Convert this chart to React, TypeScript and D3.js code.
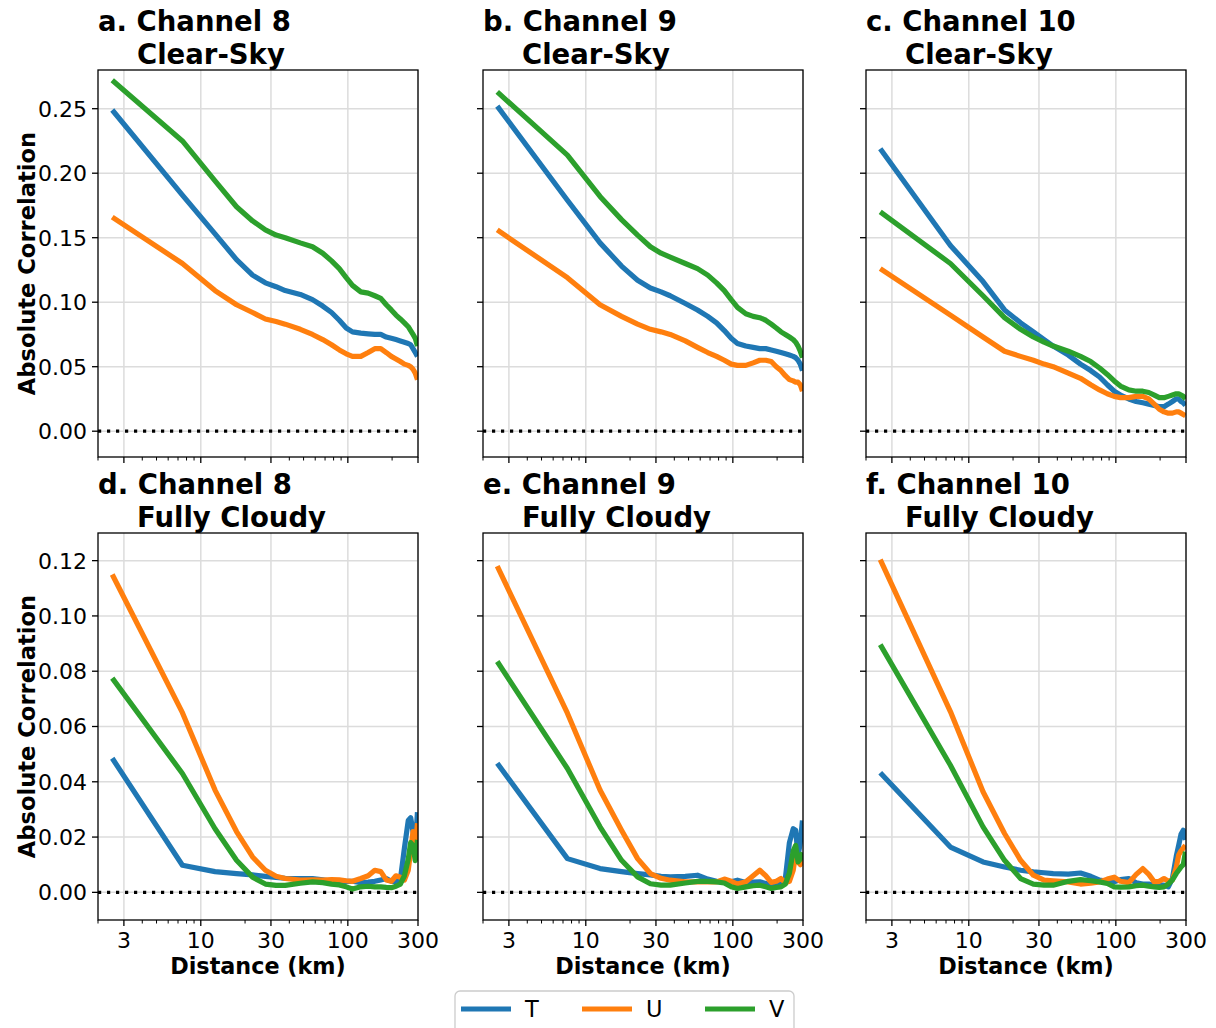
import * as d3 from "d3";

// distance bins (km), shared by every panel
const distances = [
  2.5, 7.5, 12.5, 17.5, 22.5, 27.5, 32.5, 37.5, 47.5, 57.5, 67.5, 77.5, 87.5,
  97.5, 107.5, 122.5, 137.5, 152.5, 167.5, 182.5, 197.5, 212.5, 227.5, 242.5,
  257.5, 267.5, 277.5, 287.5, 297.5,
];

// clear-sky, channel 8
const tClear8 = [0.249, 0.183, 0.153, 0.133, 0.121, 0.115, 0.112, 0.109, 0.106, 0.102, 0.097, 0.092, 0.086, 0.08, 0.077, 0.076, 0.0755, 0.075, 0.075, 0.073, 0.072, 0.071, 0.07, 0.069, 0.068, 0.067, 0.064, 0.061, 0.058];
const uClear8 = [0.166, 0.13, 0.109, 0.098, 0.092, 0.087, 0.085, 0.083, 0.079, 0.075, 0.071, 0.067, 0.063, 0.06, 0.058, 0.058, 0.061, 0.064, 0.064, 0.061, 0.058, 0.056, 0.054, 0.052, 0.051, 0.05, 0.048, 0.045, 0.04];
const vClear8 = [0.272, 0.225, 0.194, 0.174, 0.163, 0.156, 0.152, 0.15, 0.146, 0.143, 0.138, 0.132, 0.126, 0.119, 0.113, 0.108, 0.107, 0.105, 0.103, 0.098, 0.094, 0.09, 0.087, 0.084, 0.081, 0.078, 0.075, 0.072, 0.066];

// clear-sky, channel 9
const tClear9 = [0.252, 0.179, 0.146, 0.128, 0.117, 0.111, 0.108, 0.105, 0.099, 0.094, 0.089, 0.084, 0.078, 0.072, 0.068, 0.066, 0.065, 0.064, 0.064, 0.063, 0.062, 0.061, 0.06, 0.059, 0.058, 0.057, 0.055, 0.052, 0.047];
const uClear9 = [0.156, 0.119, 0.098, 0.089, 0.083, 0.079, 0.077, 0.075, 0.07, 0.065, 0.061, 0.058, 0.055, 0.052, 0.051, 0.051, 0.053, 0.055, 0.055, 0.054, 0.05, 0.047, 0.043, 0.04, 0.039, 0.038, 0.038, 0.036, 0.031];
const vClear9 = [0.263, 0.214, 0.182, 0.164, 0.152, 0.143, 0.138, 0.135, 0.13, 0.126, 0.121, 0.115, 0.109, 0.102, 0.096, 0.091, 0.089, 0.088, 0.086, 0.083, 0.08, 0.077, 0.075, 0.073, 0.071, 0.069, 0.066, 0.062, 0.057];

// clear-sky, channel 10
const tClear10 = [0.219, 0.144, 0.116, 0.094, 0.084, 0.077, 0.071, 0.066, 0.059, 0.052, 0.047, 0.042, 0.036, 0.031, 0.028, 0.025, 0.023, 0.022, 0.021, 0.02, 0.019, 0.019, 0.021, 0.023, 0.025, 0.025, 0.023, 0.022, 0.02];
const uClear10 = [0.126, 0.09, 0.073, 0.062, 0.058, 0.055, 0.052, 0.05, 0.045, 0.041, 0.036, 0.032, 0.029, 0.027, 0.026, 0.026, 0.027, 0.027, 0.025, 0.021, 0.017, 0.015, 0.014, 0.014, 0.015, 0.015, 0.014, 0.013, 0.012];
const vClear10 = [0.17, 0.13, 0.105, 0.088, 0.079, 0.073, 0.069, 0.066, 0.062, 0.058, 0.054, 0.049, 0.044, 0.039, 0.035, 0.032, 0.031, 0.031, 0.03, 0.028, 0.026, 0.026, 0.027, 0.028, 0.029, 0.029, 0.028, 0.027, 0.025];

// fully cloudy, channel 8
const tCloud8 = [0.0485, 0.0098, 0.0075, 0.0068, 0.0063, 0.0058, 0.0054, 0.0051, 0.005, 0.005, 0.0045, 0.004, 0.0038, 0.004, 0.004, 0.0035, 0.0037, 0.004, 0.0045, 0.005, 0.004, 0.004, 0.0045, 0.016, 0.026, 0.027, 0.022, 0.017, 0.029];
const uCloud8 = [0.115, 0.065, 0.037, 0.022, 0.0128, 0.008, 0.0058, 0.005, 0.0044, 0.0045, 0.0044, 0.0046, 0.0045, 0.0042, 0.004, 0.005, 0.006, 0.008, 0.0075, 0.0045, 0.004, 0.006, 0.0055, 0.0045, 0.008, 0.015, 0.022, 0.016, 0.025];
const vCloud8 = [0.0775, 0.043, 0.023, 0.0116, 0.0055, 0.003, 0.0025, 0.0025, 0.0033, 0.0038, 0.0035, 0.003, 0.0027, 0.002, 0.0012, 0.002, 0.0022, 0.002, 0.002, 0.0018, 0.0017, 0.0022, 0.003, 0.006, 0.012, 0.018, 0.017, 0.0115, 0.019];

// fully cloudy, channel 9
const tCloud9 = [0.0467, 0.0122, 0.0086, 0.0075, 0.0068, 0.0063, 0.0058, 0.0056, 0.0058, 0.0062, 0.0048, 0.004, 0.0038, 0.0038, 0.0044, 0.0036, 0.0037, 0.0038, 0.0032, 0.0026, 0.003, 0.0038, 0.005, 0.018, 0.023, 0.0225, 0.013, 0.018, 0.026];
const uCloud9 = [0.118, 0.0648, 0.037, 0.0225, 0.0122, 0.0068, 0.0051, 0.0044, 0.0038, 0.0038, 0.0038, 0.0038, 0.0048, 0.004, 0.003, 0.0038, 0.006, 0.008, 0.006, 0.0036, 0.004, 0.005, 0.0035, 0.004, 0.008, 0.014, 0.011, 0.01, 0.012];
const vCloud9 = [0.0835, 0.0448, 0.0237, 0.0116, 0.0056, 0.0031, 0.0026, 0.0026, 0.0034, 0.004, 0.004, 0.0038, 0.0034, 0.002, 0.0014, 0.002, 0.0024, 0.0026, 0.002, 0.0014, 0.0018, 0.002, 0.003, 0.007, 0.015, 0.017, 0.011, 0.012, 0.0145];

// fully cloudy, channel 10
const tCloud10 = [0.0433, 0.0164, 0.011, 0.0092, 0.008, 0.0074, 0.0071, 0.0068, 0.0066, 0.007, 0.0058, 0.0044, 0.004, 0.0038, 0.0046, 0.005, 0.0035, 0.003, 0.003, 0.0026, 0.0026, 0.0026, 0.002, 0.005, 0.013, 0.017, 0.021, 0.0225, 0.019];
const uCloud10 = [0.1204, 0.0654, 0.0364, 0.0213, 0.0116, 0.0062, 0.0044, 0.0042, 0.0038, 0.003, 0.0033, 0.0038, 0.0048, 0.0055, 0.004, 0.0035, 0.0065, 0.0086, 0.0065, 0.0038, 0.004, 0.005, 0.004, 0.0045, 0.009, 0.0135, 0.015, 0.016, 0.017];
const vCloud10 = [0.0896, 0.046, 0.0237, 0.0116, 0.005, 0.003, 0.0026, 0.0026, 0.004, 0.0046, 0.0042, 0.0038, 0.0032, 0.002, 0.0019, 0.002, 0.0024, 0.0026, 0.0022, 0.002, 0.0018, 0.002, 0.003, 0.0045, 0.0068, 0.008, 0.0092, 0.01, 0.0147];

const xMajor = [3, 10, 30, 100, 300];
const xMinor = [2, 4, 5, 6, 7, 8, 9, 20, 40, 50, 60, 70, 80, 90, 200];
const yTicksClear = [0, 0.05, 0.1, 0.15, 0.2, 0.25];
const yTicksCloud = [0, 0.02, 0.04, 0.06, 0.08, 0.1, 0.12];

const seriesNames = ["T", "U", "V"];
const colors = { T: "#1f77b4", U: "#ff7f0e", V: "#2ca02c" };

const panels = [
  { id: "a", title: "a. Channel 8", sub: "Clear-Sky", row: 0, col: 0, T: tClear8, U: uClear8, V: vClear8 },
  { id: "b", title: "b. Channel 9", sub: "Clear-Sky", row: 0, col: 1, T: tClear9, U: uClear9, V: vClear9 },
  { id: "c", title: "c. Channel 10", sub: "Clear-Sky", row: 0, col: 2, T: tClear10, U: uClear10, V: vClear10 },
  { id: "d", title: "d. Channel 8", sub: "Fully Cloudy", row: 1, col: 0, T: tCloud8, U: uCloud8, V: vCloud8 },
  { id: "e", title: "e. Channel 9", sub: "Fully Cloudy", row: 1, col: 1, T: tCloud9, U: uCloud9, V: vCloud9 },
  { id: "f", title: "f. Channel 10", sub: "Fully Cloudy", row: 1, col: 2, T: tCloud10, U: uCloud10, V: vCloud10 },
];

const colLeft = [98, 483, 866];
const rowTop = [70, 533];
const pw = 320;
const ph = 387;
const font = "DejaVu Sans, sans-serif";

function Panel({ p }) {
  const left = colLeft[p.col];
  const top = rowTop[p.row];
  const x = d3.scaleLog().domain([2, 300]).range([0, pw]);
  const y = d3
    .scaleLinear()
    .domain(p.row === 0 ? [-0.02, 0.28] : [-0.01, 0.13])
    .range([ph, 0]);
  const yTicks = p.row === 0 ? yTicksClear : yTicksCloud;
  const line = d3
    .line<number>()
    .x((_, i) => x(distances[i]))
    .y((d) => y(d));
  const fmt = d3.format(".2f");
  return (
    <g transform={`translate(${left},${top})`}>
      <clipPath id={`clip-${p.id}`}>
        <rect x={0} y={0} width={pw} height={ph} />
      </clipPath>
      {/* grid */}
      {xMajor.map((t) => (
        <line key={`gx${t}`} x1={x(t)} x2={x(t)} y1={0} y2={ph} stroke="#dcdcdc" strokeWidth={1.5} />
      ))}
      {yTicks.map((t) => (
        <line key={`gy${t}`} x1={0} x2={pw} y1={y(t)} y2={y(t)} stroke="#dcdcdc" strokeWidth={1.5} />
      ))}
      <g clipPath={`url(#clip-${p.id})`}>
        <line x1={0} x2={pw} y1={y(0)} y2={y(0)} stroke="#000" strokeWidth={3.2} strokeDasharray="3.2,5.8" />
        {seriesNames.map((s) => (
          <path key={s} d={line(p[s])} fill="none" stroke={colors[s]} strokeWidth={5.2} strokeLinejoin="round" />
        ))}
      </g>
      <rect x={0} y={0} width={pw} height={ph} fill="none" stroke="#000" strokeWidth={1.3} />
      {/* x ticks */}
      {xMajor.map((t) => (
        <line key={`xt${t}`} x1={x(t)} x2={x(t)} y1={ph} y2={ph + 6} stroke="#000" strokeWidth={1.3} />
      ))}
      {xMinor.map((t) => (
        <line key={`xm${t}`} x1={x(t)} x2={x(t)} y1={ph} y2={ph + 3.5} stroke="#000" strokeWidth={1} />
      ))}
      {p.row === 1 &&
        xMajor.map((t) => (
          <text key={`xl${t}`} x={x(t)} y={ph + 28} textAnchor="middle" fontFamily={font} fontSize={22}>
            {t}
          </text>
        ))}
      {p.row === 1 && (
        <text x={pw / 2} y={ph + 54} textAnchor="middle" fontFamily={font} fontSize={22.3} fontWeight="bold">
          Distance (km)
        </text>
      )}
      {/* y ticks */}
      {yTicks.map((t) => (
        <line key={`yt${t}`} x1={-6} x2={0} y1={y(t)} y2={y(t)} stroke="#000" strokeWidth={1.3} />
      ))}
      {p.col === 0 &&
        yTicks.map((t) => (
          <text key={`yl${t}`} x={-11} y={y(t)} dy="0.36em" textAnchor="end" fontFamily={font} fontSize={22}>
            {fmt(t)}
          </text>
        ))}
      {p.col === 0 && (
        <text
          transform={`translate(${-63},${ph / 2}) rotate(-90)`}
          textAnchor="middle"
          fontFamily={font}
          fontSize={22.6}
          fontWeight="bold"
        >
          Absolute Correlation
        </text>
      )}
      {/* title */}
      <text x={0} y={-39} fontFamily={font} fontSize={27.5} fontWeight="bold">
        {p.title}
      </text>
      <text x={39} y={-6} fontFamily={font} fontSize={27.5} fontWeight="bold">
        {p.sub}
      </text>
    </g>
  );
}

function Legend() {
  const items = [
    { name: "T", x: 461 },
    { name: "U", x: 582 },
    { name: "V", x: 705 },
  ];
  return (
    <g>
      <rect x={455} y={991} width={339} height={60} rx={5} fill="#fff" fillOpacity={0.8} stroke="#cccccc" strokeWidth={1.3} />
      {items.map((it) => (
        <g key={it.name}>
          <line x1={it.x} x2={it.x + 50} y1={1009} y2={1009} stroke={colors[it.name]} strokeWidth={5.2} />
          <text x={it.x + 64} y={1009} dy="0.36em" fontFamily={font} fontSize={22.5}>
            {it.name}
          </text>
        </g>
      ))}
    </g>
  );
}

export default function App() {
  return (
    <svg
      width={1216}
      height={1028}
      viewBox="0 0 1216 1028"
      style={{ position: "absolute", left: 0, top: 0, background: "#fff" }}
    >
      <rect x={0} y={0} width={1216} height={1028} fill="#fff" />
      {panels.map((p) => (
        <Panel key={p.id} p={p} />
      ))}
      <Legend />
    </svg>
  );
}
